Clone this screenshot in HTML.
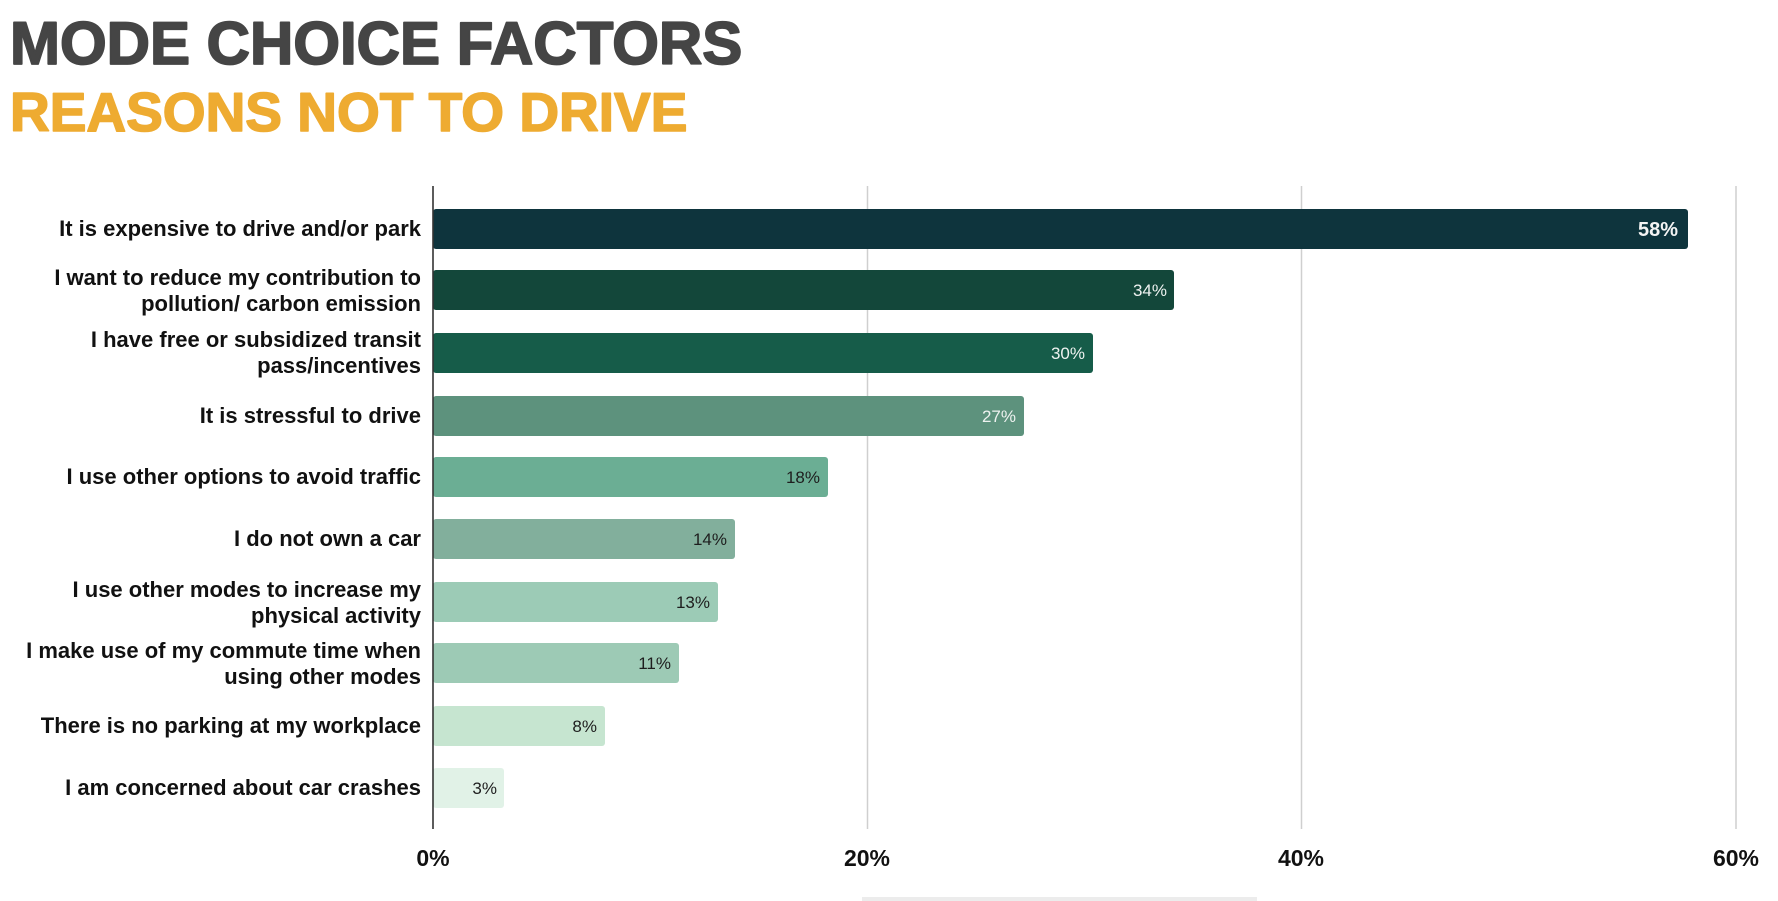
<!DOCTYPE html>
<html>
<head>
<meta charset="utf-8">
<style>
  html,body{margin:0;padding:0;background:#fff;}
  body{width:1778px;height:901px;overflow:hidden;position:relative;font-family:"Liberation Sans",Arial,sans-serif;}
  svg{position:absolute;left:0;top:0;}
</style>
</head>
<body>
<svg width="1778" height="901" viewBox="0 0 1778 901" xmlns="http://www.w3.org/2000/svg" font-family="Liberation Sans, Arial, sans-serif">
  <!-- Titles -->
  <text x="10" y="64" font-size="60" font-weight="bold" fill="#454545" stroke="#454545" stroke-width="1.8" stroke-linejoin="round">MODE CHOICE FACTORS</text>
  <text x="10" y="131" font-size="55" font-weight="bold" fill="#EEAB31" stroke="#EEAB31" stroke-width="1.6" stroke-linejoin="round">REASONS NOT TO DRIVE</text>

  <!-- Gridlines -->
  <g stroke="#cfcfcf" stroke-width="1.5">
    <line x1="867.5" y1="186" x2="867.5" y2="829"/>
    <line x1="1301.5" y1="186" x2="1301.5" y2="829"/>
    <line x1="1736" y1="186" x2="1736" y2="829"/>
  </g>

  <!-- Bars -->
  <g>
    <rect x="433" y="209" width="1255" height="40" rx="3" fill="#0e343d"/>
    <rect x="433" y="270" width="741" height="40" rx="3" fill="#13473a"/>
    <rect x="433" y="333" width="660" height="40" rx="3" fill="#165c49"/>
    <rect x="433" y="396" width="591" height="40" rx="3" fill="#5d927d"/>
    <rect x="433" y="457" width="395" height="40" rx="3" fill="#6bae94"/>
    <rect x="433" y="519" width="302" height="40" rx="3" fill="#82af9c"/>
    <rect x="433" y="582" width="285" height="40" rx="3" fill="#9ccbb6"/>
    <rect x="433" y="643" width="246" height="40" rx="3" fill="#9dcab5"/>
    <rect x="433" y="706" width="172" height="40" rx="3" fill="#c6e5d0"/>
    <rect x="433" y="768" width="71" height="40" rx="3" fill="#e1f2e7"/>
  </g>

  <!-- Axis line -->
  <line x1="433" y1="186" x2="433" y2="829" stroke="#333" stroke-width="1.6"/>

  <!-- Value labels -->
  <g font-size="17" text-anchor="end">
    <text x="1678" y="236" font-size="20" font-weight="bold" fill="#f4f4f4">58%</text>
    <text x="1167" y="296" fill="#eef2f0">34%</text>
    <text x="1085" y="359" fill="#eef2f0">30%</text>
    <text x="1016" y="422" fill="#eef2f0">27%</text>
    <text x="820" y="483" fill="#1e1e1e">18%</text>
    <text x="727" y="545" fill="#1e1e1e">14%</text>
    <text x="710" y="608" fill="#1e1e1e">13%</text>
    <text x="671" y="669" fill="#1e1e1e">11%</text>
    <text x="597" y="732" fill="#1e1e1e">8%</text>
    <text x="497" y="794" fill="#1e1e1e">3%</text>
  </g>

  <!-- Category labels -->
  <g font-size="22" font-weight="bold" fill="#111" text-anchor="end">
    <text x="421" y="236">It is expensive to drive and/or park</text>
    <text x="421" y="285">I want to reduce my contribution to</text>
    <text x="421" y="311">pollution/ carbon emission</text>
    <text x="421" y="347">I have free or subsidized transit</text>
    <text x="421" y="373">pass/incentives</text>
    <text x="421" y="423">It is stressful to drive</text>
    <text x="421" y="484">I use other options to avoid traffic</text>
    <text x="421" y="546">I do not own a car</text>
    <text x="421" y="597">I use other modes to increase my</text>
    <text x="421" y="623">physical activity</text>
    <text x="421" y="658">I make use of my commute time when</text>
    <text x="421" y="684">using other modes</text>
    <text x="421" y="733">There is no parking at my workplace</text>
    <text x="421" y="795">I am concerned about car crashes</text>
  </g>

  <!-- X tick labels -->
  <g font-size="23" font-weight="bold" fill="#111" text-anchor="middle">
    <text x="433" y="866">0%</text>
    <text x="867" y="866">20%</text>
    <text x="1301" y="866">40%</text>
    <text x="1736" y="866">60%</text>
  </g>

  <!-- faint cut-off text at bottom -->
  <rect x="862" y="897" width="395" height="4" fill="#ececec"/>
</svg>
</body>
</html>
